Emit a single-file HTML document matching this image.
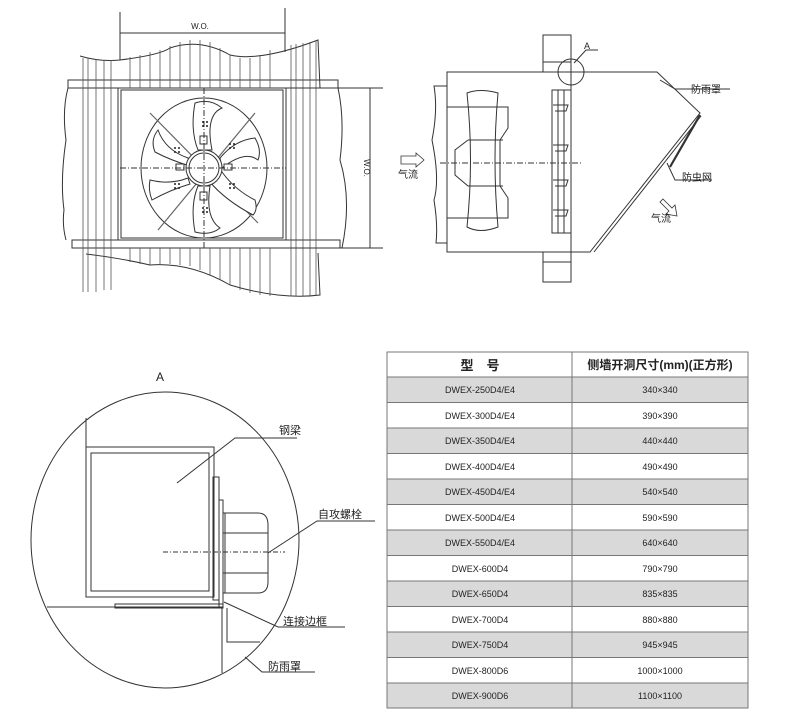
<!DOCTYPE html>
<html><head><meta charset="utf-8"><style>
html,body{margin:0;padding:0;background:#fff}
svg{display:block}
text{font-family:"Liberation Sans","Noto Sans CJK SC",sans-serif;fill:#222}
</style></head><body>
<svg width="790" height="720" viewBox="0 0 790 720" xmlns="http://www.w3.org/2000/svg">
<g stroke="#333" stroke-width="1" fill="none">
<!-- TOP LEFT -->
<line x1="120" y1="12" x2="120" y2="60"/><line x1="285" y1="8" x2="285" y2="52"/>
<line x1="120" y1="33" x2="285" y2="33"/>
<path d="M80 56 Q100 62 120 60 Q160 55 170 48 Q200 38 230 55 Q260 62 318 40 L320 88"/>
<path d="M86 254 Q120 258 150 265 Q190 262 230 285 Q280 300 320 295 L318 253"/>
<path d="M68 80 L338 80 L338 88 L68 88 Z"/>
<path d="M72 240 L340 240 L340 248 L72 248 Z"/>
<path d="M68 88 Q62 110 66 140 Q60 180 64 210 Q62 225 66 240"/>
<path d="M338 88 Q345 120 340 160 Q352 200 342 248"/>
<rect x="118" y="88" width="168" height="152"/>
<rect x="121" y="90" width="162" height="148"/>
<g stroke="#555" stroke-width="0.8">
<line x1="83" y1="58" x2="83" y2="292"/><line x1="88" y1="58" x2="88" y2="292"/><line x1="96" y1="59" x2="96" y2="292"/><line x1="104" y1="60" x2="104" y2="290"/><line x1="111" y1="60" x2="111" y2="290"/>
<line x1="130" y1="57" x2="130" y2="88"/><line x1="140" y1="55" x2="140" y2="88"/><line x1="150" y1="52" x2="150" y2="88"/><line x1="160" y1="50" x2="160" y2="88"/><line x1="170" y1="46" x2="170" y2="88"/><line x1="180" y1="42" x2="180" y2="88"/><line x1="190" y1="40" x2="190" y2="88"/><line x1="200" y1="40" x2="200" y2="88"/><line x1="210" y1="42" x2="210" y2="88"/><line x1="220" y1="48" x2="220" y2="88"/><line x1="230" y1="55" x2="230" y2="88"/><line x1="240" y1="58" x2="240" y2="88"/><line x1="250" y1="58" x2="250" y2="88"/><line x1="260" y1="55" x2="260" y2="88"/><line x1="270" y1="50" x2="270" y2="88"/>
<line x1="130" y1="248" x2="130" y2="262"/><line x1="140" y1="248" x2="140" y2="264"/><line x1="150" y1="248" x2="150" y2="265"/><line x1="160" y1="248" x2="160" y2="265"/><line x1="170" y1="248" x2="170" y2="264"/><line x1="180" y1="248" x2="180" y2="265"/><line x1="190" y1="248" x2="190" y2="266"/><line x1="200" y1="248" x2="200" y2="270"/><line x1="210" y1="248" x2="210" y2="275"/><line x1="220" y1="248" x2="220" y2="280"/><line x1="230" y1="248" x2="230" y2="285"/><line x1="240" y1="248" x2="240" y2="290"/><line x1="250" y1="248" x2="250" y2="293"/><line x1="260" y1="248" x2="260" y2="295"/><line x1="270" y1="248" x2="270" y2="296"/>
<line x1="291" y1="45" x2="291" y2="296"/><line x1="296" y1="44" x2="296" y2="296"/><line x1="303" y1="43" x2="303" y2="296"/><line x1="310" y1="42" x2="310" y2="296"/><line x1="316" y1="41" x2="316" y2="296"/>
</g>
<line x1="286" y1="88" x2="383" y2="88"/><line x1="286" y1="248" x2="383" y2="248"/><line x1="370" y1="88" x2="370" y2="248"/>
<ellipse cx="204" cy="168" rx="63" ry="70"/>
<g stroke="#666" stroke-width="1.2">
<line x1="150" y1="113" x2="258" y2="223"/><line x1="255" y1="113" x2="158" y2="230"/>
</g>
<path d="M198 150 Q190 130 195 103 Q210 98 222 108 Q205 115 212 150 Z" fill="#fff"/>
<path d="M220 158 Q235 140 255 138 Q262 150 258 160 Q245 150 222 168 Z" fill="#fff"/>
<path d="M210 182 Q225 200 253 215 Q258 210 255 200 Q235 190 222 172 Z" fill="#fff"/>
<path d="M198 186 Q190 205 195 232 Q210 236 220 228 Q205 218 210 186 Z" fill="#fff"/>
<path d="M188 178 Q170 185 150 180 Q148 190 152 200 Q170 190 190 184 Z" fill="#fff"/>
<path d="M188 158 Q165 150 158 130 Q150 140 155 152 Q170 160 190 166 Z" fill="#fff"/>
<circle cx="204" cy="168" r="18" fill="#fff"/><circle cx="204" cy="168" r="15"/>
<rect x="200" y="136" width="7" height="8" fill="#fff"/><rect x="200" y="192" width="7" height="8" fill="#fff"/>
<rect x="176" y="164" width="8" height="6" fill="#fff"/><rect x="224" y="164" width="8" height="6" fill="#fff"/>
<g stroke="#333" stroke-dasharray="6,2,1,2"><line x1="120" y1="168" x2="286" y2="168"/><line x1="204" y1="88" x2="204" y2="248"/></g>
<!-- TOP RIGHT -->
<path d="M447 72 L447 252 L590 252 L700 113 L657 72 L447 72 Z"/>
<line x1="594" y1="252" x2="701" y2="116"/>
<line x1="571" y1="72" x2="571" y2="252"/>
<path d="M700 115 L670 167" stroke-width="2.2"/>
<path d="M447 86 L434 86 Q438 110 432 140 Q440 180 434 200 Q438 225 436 243 L447 243"/>
<rect x="543" y="35" width="28" height="37"/><line x1="543" y1="62" x2="571" y2="62"/>
<rect x="543" y="252" width="28" height="30"/><line x1="543" y1="262" x2="571" y2="262"/>
<circle cx="571" cy="72" r="13"/>
<path d="M574 63 L586 50 L598 50"/>
<path d="M447 107 L508 107 L508 128 L500 140 L500 186 L508 198 L508 218 L447 218"/>
<path d="M468 140 L503 140 M468 140 L455 150 L455 175 L468 186 L503 186"/>
<path d="M467 93 Q480 88 498 93 Q492 160 498 227 Q480 234 467 227 Q474 160 467 93 Z"/>
<rect x="552" y="90" width="19" height="143"/><line x1="558" y1="90" x2="558" y2="233"/><line x1="564" y1="90" x2="564" y2="233"/>
<path d="M553 105 L568 105 L566 111 L555 111"/><path d="M553 145 L568 145 L566 151 L555 151"/><path d="M553 180 L568 180 L566 186 L555 186"/><path d="M553 210 L568 210 L566 216 L555 216"/>
<line x1="440" y1="163" x2="582" y2="163" stroke-dasharray="6,2,1,2"/>
<path d="M401 156 L416 156 L416 153 L424 160 L416 167 L416 164 L401 164 Z" stroke-width="0.8"/>
<path d="M663 199 L672 208 L675 205 L677 216 L666 214 L669 211 L660 202 Z" stroke-width="0.8"/>
<path d="M660 80 L675 89 L730 89"/>
<path d="M667 163 L675 180 L712 180"/>
<!-- DETAIL A -->
<ellipse cx="165" cy="540" rx="134" ry="148"/>
<line x1="86" y1="418" x2="86" y2="447"/>
<rect x="86" y="447" width="128" height="150"/>
<rect x="91" y="453" width="118" height="138"/>
<rect x="213" y="477" width="6" height="123"/>
<rect x="219" y="500" width="4" height="107"/>
<path d="M223 513 L258 513 Q268 513 268 525 L268 582 Q268 593 258 593 L223 593"/>
<line x1="225" y1="513" x2="225" y2="593"/>
<line x1="223" y1="533" x2="268" y2="533"/><line x1="223" y1="573" x2="268" y2="573"/>
<line x1="163" y1="552" x2="285" y2="552" stroke-dasharray="5,2,1,2"/>
<line x1="47" y1="607" x2="223" y2="607"/>
<rect x="115" y="604" width="108" height="4"/>
<line x1="222" y1="607" x2="222" y2="673"/>
<path d="M227 608 L227 642 L260 642"/>
<path d="M177 483 L235 438 L297 438"/>
<path d="M268 553 L317 521 L375 521"/>
<path d="M224 602 L278 627 L345 627"/>
<path d="M245 657 L262 672 L315 672"/>
</g>
<g fill="#222">
<g transform="translate(205,124)"><circle cx="-2" cy="-2" r="1"/><circle cx="2" cy="-2" r="1"/><circle cx="-2" cy="2" r="1"/><circle cx="2" cy="2" r="1"/></g>
<g transform="translate(232,146)"><circle cx="-2" cy="-2" r="1"/><circle cx="2" cy="-2" r="1"/><circle cx="-2" cy="2" r="1"/><circle cx="2" cy="2" r="1"/></g>
<g transform="translate(232,186)"><circle cx="-2" cy="-2" r="1"/><circle cx="2" cy="-2" r="1"/><circle cx="-2" cy="2" r="1"/><circle cx="2" cy="2" r="1"/></g>
<g transform="translate(205,210)"><circle cx="-2" cy="-2" r="1"/><circle cx="2" cy="-2" r="1"/><circle cx="-2" cy="2" r="1"/><circle cx="2" cy="2" r="1"/></g>
<g transform="translate(177,186)"><circle cx="-2" cy="-2" r="1"/><circle cx="2" cy="-2" r="1"/><circle cx="-2" cy="2" r="1"/><circle cx="2" cy="2" r="1"/></g>
<g transform="translate(177,150)"><circle cx="-2" cy="-2" r="1"/><circle cx="2" cy="-2" r="1"/><circle cx="-2" cy="2" r="1"/><circle cx="2" cy="2" r="1"/></g>
</g>
<text x="200" y="29" font-size="8" text-anchor="middle">W.O.</text>
<text x="0" y="0" font-size="8" text-anchor="middle" transform="translate(364,168) rotate(90)">W.O.</text>
<text x="398" y="178" font-size="10">气流</text>
<text x="651" y="222" font-size="10">气流</text>
<text x="691" y="93" font-size="10">防雨罩</text>
<text x="682" y="181" font-size="10">防虫网</text>
<text x="584" y="49" font-size="9">A</text>
<text x="160" y="381" font-size="12" text-anchor="middle">A</text>
<text x="279" y="434" font-size="11">钢梁</text>
<text x="318" y="518" font-size="11">自攻螺栓</text>
<text x="283" y="625" font-size="11">连接边框</text>
<text x="268" y="670" font-size="11">防雨罩</text>
<!-- TABLE -->
<g>
<rect x="387" y="377" width="361" height="25.5" fill="#d9d9d9"/>
<rect x="387" y="428" width="361" height="25.5" fill="#d9d9d9"/>
<rect x="387" y="479" width="361" height="25.5" fill="#d9d9d9"/>
<rect x="387" y="530" width="361" height="25.5" fill="#d9d9d9"/>
<rect x="387" y="581" width="361" height="25.5" fill="#d9d9d9"/>
<rect x="387" y="632" width="361" height="25.5" fill="#d9d9d9"/>
<rect x="387" y="683" width="361" height="25.5" fill="#d9d9d9"/>
<g stroke="#777" stroke-width="1">
<rect x="387" y="352" width="361" height="356" fill="none"/>
<line x1="572" y1="352" x2="572" y2="708"/>
<line x1="387" y1="377" x2="748" y2="377"/><line x1="387" y1="402.5" x2="748" y2="402.5"/><line x1="387" y1="428" x2="748" y2="428"/><line x1="387" y1="453.5" x2="748" y2="453.5"/><line x1="387" y1="479" x2="748" y2="479"/><line x1="387" y1="504.5" x2="748" y2="504.5"/><line x1="387" y1="530" x2="748" y2="530"/><line x1="387" y1="555.5" x2="748" y2="555.5"/><line x1="387" y1="581" x2="748" y2="581"/><line x1="387" y1="606.5" x2="748" y2="606.5"/><line x1="387" y1="632" x2="748" y2="632"/><line x1="387" y1="657.5" x2="748" y2="657.5"/><line x1="387" y1="683" x2="748" y2="683"/>
</g>
<g font-size="9" text-anchor="middle" fill="#333">
<text x="480" y="370" font-size="13" font-weight="bold">型　号</text>
<text x="660" y="369" font-size="12" font-weight="bold">侧墙开洞尺寸(mm)(正方形)</text>
<text x="480" y="393">DWEX-250D4/E4</text><text x="660" y="393">340×340</text>
<text x="480" y="419">DWEX-300D4/E4</text><text x="660" y="419">390×390</text>
<text x="480" y="444">DWEX-350D4/E4</text><text x="660" y="444">440×440</text>
<text x="480" y="470">DWEX-400D4/E4</text><text x="660" y="470">490×490</text>
<text x="480" y="495">DWEX-450D4/E4</text><text x="660" y="495">540×540</text>
<text x="480" y="521">DWEX-500D4/E4</text><text x="660" y="521">590×590</text>
<text x="480" y="546">DWEX-550D4/E4</text><text x="660" y="546">640×640</text>
<text x="480" y="572">DWEX-600D4</text><text x="660" y="572">790×790</text>
<text x="480" y="597">DWEX-650D4</text><text x="660" y="597">835×835</text>
<text x="480" y="623">DWEX-700D4</text><text x="660" y="623">880×880</text>
<text x="480" y="648">DWEX-750D4</text><text x="660" y="648">945×945</text>
<text x="480" y="674">DWEX-800D6</text><text x="660" y="674">1000×1000</text>
<text x="480" y="699">DWEX-900D6</text><text x="660" y="699">1100×1100</text>
</g>
</g>
</svg>
</body></html>
